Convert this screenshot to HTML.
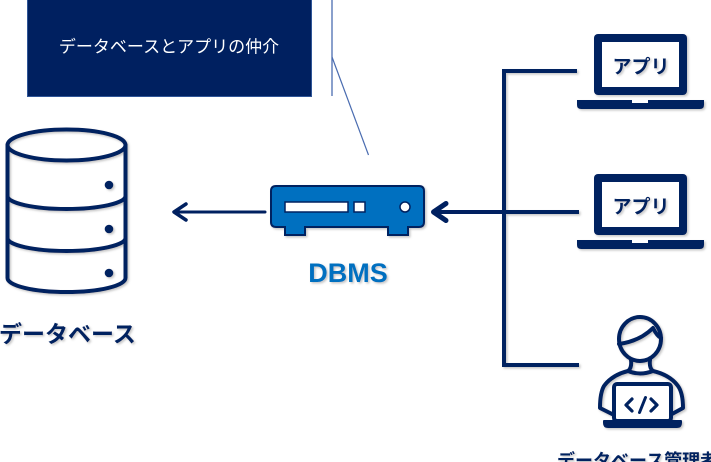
<!DOCTYPE html>
<html><head><meta charset="utf-8">
<style>
html,body{margin:0;padding:0;background:#fff;}
body{width:711px;height:462px;overflow:hidden;}
svg{display:block;}
text{font-family:"Liberation Sans","Noto Sans CJK JP",sans-serif;}
</style></head>
<body>
<svg width="711" height="462" viewBox="0 0 711 462" xmlns="http://www.w3.org/2000/svg">
<defs>
<filter id="sh" x="-10%" y="-10%" width="130%" height="130%">
<feDropShadow dx="1.5" dy="1.5" stdDeviation="1" flood-color="#808080" flood-opacity="0.45"/>
</filter>
</defs>

<!-- callout box -->
<rect x="27.5" y="-1" width="284" height="97.5" fill="#002060" stroke="#2f5597" stroke-width="1"/>
<text x="169" y="52.5" font-size="17" fill="#ffffff" text-anchor="middle" style='font-family:"Liberation Sans","Noto Sans CJK JP",sans-serif'>データベースとアプリの仲介</text>
<line x1="332" y1="0" x2="332" y2="96" stroke="#4a6cb0" stroke-width="1.3"/>
<line x1="332" y1="57" x2="368.5" y2="155" stroke="#4a6cb0" stroke-width="1.2"/>

<!-- database -->
<g filter="url(#sh)" fill="none" stroke="#002060" stroke-width="4" stroke-linecap="round">
<ellipse cx="66.5" cy="145" rx="59" ry="15.5"/>
<path d="M7.5 145 V278 A59 14 0 0 0 125.5 278 V145"/>
<path d="M7.5 196 A59 13 0 0 0 125.5 196"/>
<path d="M7.5 238 A59 13 0 0 0 125.5 238"/>
<g fill="#002060" stroke="none">
<circle cx="109" cy="185" r="4.3"/>
<circle cx="109" cy="229" r="4.3"/>
<circle cx="109" cy="273" r="4.3"/>
</g>
</g>
<text x="-1" y="342" font-size="23" font-weight="bold" fill="#002060" filter="url(#sh)">データベース</text>

<!-- arrows -->
<g stroke="#002060" fill="none" stroke-linecap="round" stroke-linejoin="round">
<line x1="265" y1="212" x2="175" y2="212" stroke-width="3"/>
<polyline points="186,204 174,212 186,220" stroke-width="3.5"/>
<line x1="503" y1="212" x2="436" y2="212" stroke-width="4"/>
<polyline points="446,203.5 433.5,212 446,220.5" stroke-width="5"/>
</g>

<!-- DBMS device -->
<g filter="url(#sh)">
<path d="M276,186 H419 Q424,186 424,191 V222 Q424,227 419,227 H408 V235 H388 V227 H305 V235 H285 V227 H276 Q271,227 271,222 V191 Q271,186 276,186 Z" fill="#0070c0" stroke="#002060" stroke-width="2"/>
<rect x="285" y="202" width="63" height="10" fill="#ffffff" stroke="#002060" stroke-width="1.5"/>
<rect x="354" y="202" width="11" height="10" fill="#ffffff" stroke="#002060" stroke-width="1.5"/>
<circle cx="405" cy="207" r="5" fill="#ffffff" stroke="#002060" stroke-width="1.5"/>
</g>
<text x="348" y="282" font-size="27" font-weight="bold" fill="#0070c0" text-anchor="middle" filter="url(#sh)">DBMS</text>

<!-- tree lines -->
<g stroke="#002060" stroke-width="4" fill="none" stroke-linecap="square" filter="url(#sh)">
<line x1="504" y1="71" x2="504" y2="365"/>
<line x1="504" y1="71" x2="575" y2="71"/>
<line x1="504" y1="365" x2="577" y2="365"/>
<line x1="504" y1="212" x2="577" y2="212"/>
</g>

<!-- laptop 1 -->
<g filter="url(#sh)">
<rect x="594" y="34" width="93" height="61" rx="4" fill="#002060"/>
<rect x="602" y="42" width="77" height="45" fill="#ffffff"/>
<path d="M577,100 H704 V105 Q704,109 700,109 H581 Q577,109 577,105 Z" fill="#002060"/>
<rect x="632" y="100" width="16" height="3" fill="#ffffff"/>
</g>
<text x="641" y="73" font-size="19" font-weight="bold" fill="#002060" text-anchor="middle" filter="url(#sh)">アプリ</text>

<!-- laptop 2 -->
<g filter="url(#sh)">
<rect x="594" y="174" width="93" height="61" rx="4" fill="#002060"/>
<rect x="602" y="182" width="77" height="45" fill="#ffffff"/>
<path d="M577,240 H704 V245 Q704,249 700,249 H581 Q577,249 577,245 Z" fill="#002060"/>
<rect x="632" y="240" width="16" height="3" fill="#ffffff"/>
</g>
<text x="641" y="213" font-size="19" font-weight="bold" fill="#002060" text-anchor="middle" filter="url(#sh)">アプリ</text>

<!-- person -->
<g filter="url(#sh)" stroke="#002060" stroke-width="4" fill="none" stroke-linecap="round" stroke-linejoin="round">
<ellipse cx="640" cy="339" rx="21" ry="22"/>
<path d="M619,344 Q640,341 653,328 Q657,336 661,338"/>
<path d="M631,360 Q632,368 628,371 Q612,375 604,386 Q600,393 600,408 L612,414"/>
<path d="M650,360 Q649,368 653,371 Q670,375 678,386 Q683,393 683,408 L672,414"/>
<path d="M628,371 Q640,376 653,371"/>
<rect x="614" y="384" width="57" height="37" rx="3" fill="#ffffff"/>
<path d="M604,421 H681 V423 Q681,427 677,427 H608 Q604,427 604,423 Z" fill="#002060" stroke-width="2"/>
<polyline points="632,399 626,405 632,411" stroke-width="3.2"/>
<line x1="645.5" y1="397.5" x2="639.5" y2="412.5" stroke-width="3"/>
<polyline points="651,399 657,405 651,411" stroke-width="3.2"/>
</g>

<text x="557" y="467" font-size="18" font-weight="bold" fill="#002060" filter="url(#sh)">データベース管理者</text>
</svg>
</body></html>
